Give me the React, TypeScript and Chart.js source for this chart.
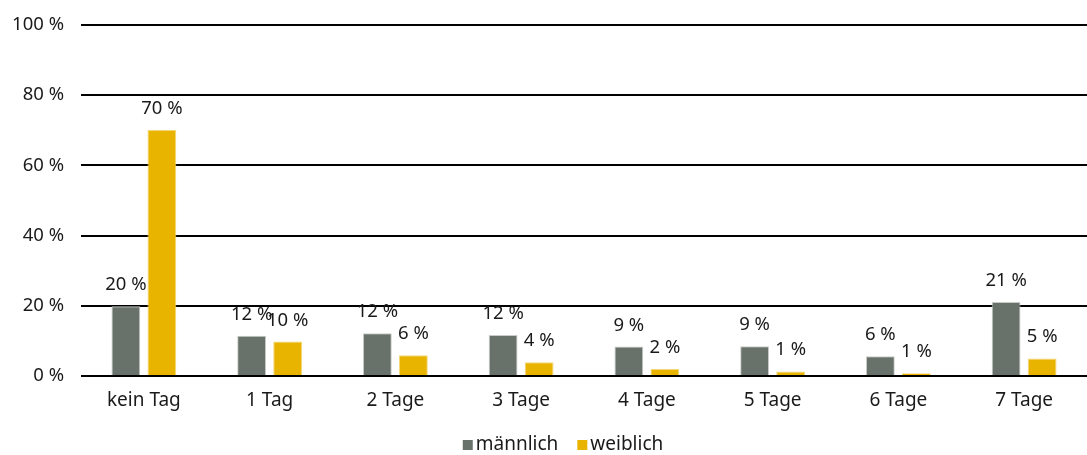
import React, { useEffect, useRef } from "react";
import { Chart, registerables } from "chart.js";

Chart.register(...registerables);

const categories = ["kein Tag", "1 Tag", "2 Tage", "3 Tage", "4 Tage", "5 Tage", "6 Tage", "7 Tage"];
const maleValues = [19.9, 11.5, 12.2, 11.7, 8.4, 8.5, 5.6, 21.1];
const femaleValues = [70.1, 9.8, 5.9, 3.9, 2.0, 1.3, 0.8, 5.0];
const maleLabels = ["20 %", "12 %", "12 %", "12 %", "9 %", "9 %", "6 %", "21 %"];
const femaleLabels = ["70 %", "10 %", "6 %", "4 %", "2 %", "1 %", "1 %", "5 %"];
const yTicks = [0, 20, 40, 60, 80, 100];
const seriesNames = ["männlich", "weiblich"];

const FONT = "Noto Sans";
const TEXT = "#1a1a1a";
const MALE = "#68716a";
const FEMALE = "#e8b400";

const valueLabelPlugin = {
  id: "valueLabels",
  afterDatasetsDraw(chart: any) {
    const ctx = chart.ctx;
    const lists = [maleLabels, femaleLabels];
    ctx.save();
    ctx.font = `18.5px "${FONT}"`;
    ctx.fillStyle = TEXT;
    ctx.textAlign = "center";
    ctx.textBaseline = "alphabetic";
    chart.data.datasets.forEach((ds: any, di: number) => {
      const meta = chart.getDatasetMeta(di);
      meta.data.forEach((bar: any, i: number) => {
        ctx.fillText(lists[di][i], bar.x, bar.y - 16);
      });
    });
    ctx.restore();
  },
};

const legendPlugin = {
  id: "customLegend",
  afterDraw(chart: any) {
    const ctx = chart.ctx;
    ctx.save();
    ctx.font = `19px "${FONT}"`;
    ctx.textBaseline = "middle";
    ctx.textAlign = "left";
    const box = 10;
    const gap = 3;
    const itemGap = 19;
    const widths = chart.data.datasets.map((ds: any) => box + gap + ctx.measureText(ds.label).width);
    const total = widths.reduce((a: number, b: number) => a + b, 0) + itemGap * (widths.length - 1);
    let x = 563 - total / 2;
    const y = 445;
    chart.data.datasets.forEach((ds: any, i: number) => {
      ctx.fillStyle = ds.backgroundColor;
      ctx.fillRect(x, y - box / 2, box, box);
      ctx.fillStyle = TEXT;
      ctx.fillText(ds.label, x + box + gap, y);
      x += widths[i] + itemGap;
    });
    ctx.restore();
  },
};

export default function App() {
  const ref = useRef<HTMLCanvasElement | null>(null);

  useEffect(() => {
    document.body.style.margin = "0";
    const chart = new Chart(ref.current as HTMLCanvasElement, {
      type: "bar",
      data: {
        labels: categories,
        datasets: [
          {
            label: seriesNames[0],
            data: maleValues,
            backgroundColor: MALE,
            borderColor: "#c8ccc8",
            borderWidth: 1,
            categoryPercentage: 0.573,
            barPercentage: 0.8,
          },
          {
            label: seriesNames[1],
            data: femaleValues,
            backgroundColor: FEMALE,
            borderColor: "#f3d87a",
            borderWidth: 1,
            categoryPercentage: 0.573,
            barPercentage: 0.8,
          },
        ],
      },
      options: {
        animation: false,
        responsive: false,
        maintainAspectRatio: false,
        layout: { padding: { top: 25, right: 0, bottom: 0, left: 0 } },
        plugins: {
          legend: { display: false },
          tooltip: { enabled: false },
        },
        scales: {
          x: {
            grid: { display: false, drawTicks: false },
            border: { display: false },
            ticks: {
              padding: 13,
              color: TEXT,
              font: { family: FONT, size: 19 },
            },
            afterFit: (s: any) => {
              s.height = 79;
            },
          },
          y: {
            min: 0,
            max: 100,
            afterBuildTicks: (s: any) => {
              s.ticks = yTicks.map((v) => ({ value: v }));
            },
            grid: { color: "#000", lineWidth: 2, drawTicks: false },
            border: { display: false },
            ticks: {
              padding: 17,
              color: TEXT,
              font: { family: FONT, size: 18.5 },
              callback: (v: any) => `${v} %`,
            },
            afterFit: (s: any) => {
              s.width = 81;
              s.paddingTop = 0;
              s.paddingBottom = 0;
            },
          },
        },
      },
      plugins: [valueLabelPlugin, legendPlugin],
    });
    return () => chart.destroy();
  }, []);

  return (
    <div style={{ width: 1087, height: 455 }}>
      <canvas ref={ref} width={1087} height={455} style={{ display: "block" }} />
    </div>
  );
}
